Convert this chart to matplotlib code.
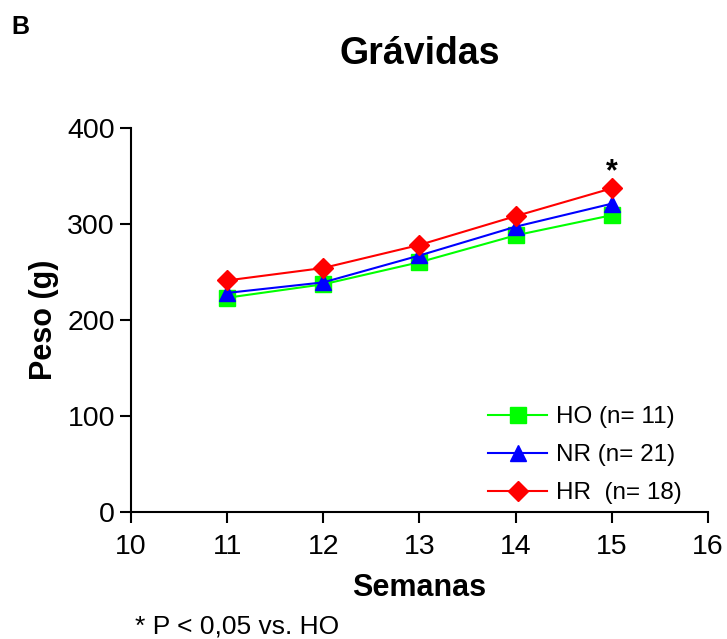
import matplotlib
matplotlib.use("Agg")
import matplotlib.pyplot as plt

plt.rcParams['font.family'] = ['Liberation Sans', 'DejaVu Sans']

semanas = [11, 12, 13, 14, 15]
peso_ho = [223, 237, 260, 288, 309]
peso_nr = [228, 239, 267, 297, 321]
peso_hr = [241, 254, 278, 308, 337]
grupos = ['HO', 'NR', 'HR']
n_grupos = [11, 21, 18]

fig = plt.figure(figsize=(7.27, 6.39), dpi=100)
ax = fig.add_axes([0.180, 0.199, 0.794, 0.601])

ax.plot(semanas, peso_ho, color='#00ff00', marker='s', markersize=12, lw=1.5,
        label='%s (n= %d)' % (grupos[0], n_grupos[0]))
ax.plot(semanas, peso_nr, color='#0000ff', marker='^', markersize=12, lw=1.5,
        label='%s (n= %d)' % (grupos[1], n_grupos[1]))
ax.plot(semanas, peso_hr, color='#ff0000', marker='D', markersize=10, lw=1.5,
        label='%s  (n= %d)' % (grupos[2], n_grupos[2]))

# significance mark over last HR point
ax.annotate('*', (semanas[-1], peso_hr[-1]), xytext=(0, 1), textcoords='offset points',
            ha='center', va='bottom', fontsize=22, fontweight='bold')

ax.set_xlim(10, 16)
ax.set_ylim(0, 400)
ax.set_xticks(range(10, 17))
ax.set_yticks(range(0, 401, 100))
ax.spines['top'].set_visible(False)
ax.spines['right'].set_visible(False)
for s in ['left', 'bottom']:
    ax.spines[s].set_linewidth(1.5)
ax.tick_params(direction='out', length=8, width=1.5, labelsize=20.5)
ax.tick_params(axis='x', pad=8)

ax.set_xlabel('Semanas', fontsize=22, fontweight='bold', labelpad=9)
ax.set_ylabel('Peso (g)', fontsize=22, fontweight='bold', labelpad=6)
ax.set_title('Grávidas', fontsize=27, fontweight='bold', pad=46)

ax.legend(loc='lower right', frameon=False, fontsize=17.5, handlelength=2.4,
          handletextpad=0.4, borderaxespad=0.0, labelspacing=0.65,
          bbox_to_anchor=(0.972, -0.005))

fig.text(0.016, 0.957, 'B', fontsize=18, fontweight='bold', va='center')
fig.text(0.186, 0.02, '* P < 0,05 vs. HO', fontsize=19, va='center')

fig.savefig('out.png', dpi=100)
